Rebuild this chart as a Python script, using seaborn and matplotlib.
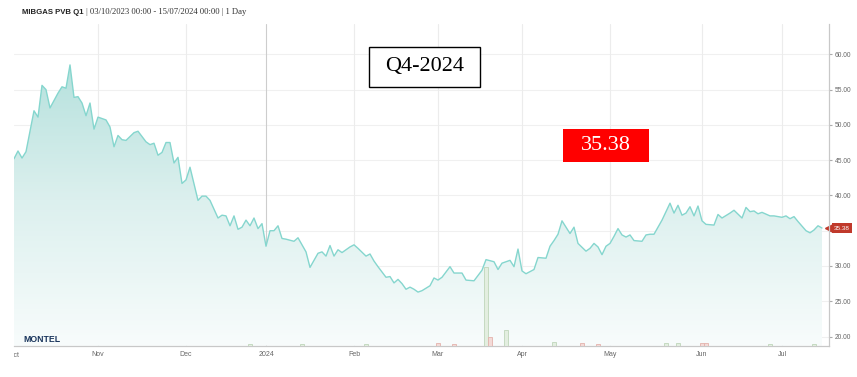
import matplotlib
matplotlib.use('Agg')
import matplotlib.pyplot as plt
import numpy as np
import pandas as pd
import seaborn as sns
from matplotlib.patches import Rectangle, PathPatch
from matplotlib.colors import LinearSegmentedColormap
from matplotlib.transforms import Bbox, TransformedBbox, blended_transform_factory

sns.set_style('white')
plt.rcParams['font.family'] = ['Liberation Sans', 'DejaVu Sans']

# daily settlement (EUR/MWh), trading days only
dates = ['2023-10-03', '2023-10-04', '2023-10-05', '2023-10-06', '2023-10-10', '2023-10-11',
         '2023-10-12', '2023-10-13', '2023-10-16', '2023-10-18', '2023-10-19', '2023-10-20',
         '2023-10-23', '2023-10-24', '2023-10-25', '2023-10-26', '2023-10-27', '2023-10-30',
         '2023-10-31', '2023-11-01', '2023-11-03', '2023-11-06', '2023-11-07', '2023-11-08',
         '2023-11-09', '2023-11-10', '2023-11-14', '2023-11-15', '2023-11-17', '2023-11-20',
         '2023-11-21', '2023-11-22', '2023-11-23', '2023-11-24', '2023-11-27', '2023-11-28',
         '2023-11-29', '2023-11-30', '2023-12-01', '2023-12-04', '2023-12-06', '2023-12-07',
         '2023-12-08', '2023-12-11', '2023-12-13', '2023-12-14', '2023-12-15', '2023-12-18',
         '2023-12-19', '2023-12-20', '2023-12-21', '2023-12-22', '2023-12-26', '2023-12-27',
         '2023-12-28', '2023-12-29', '2024-01-02', '2024-01-03', '2024-01-04', '2024-01-05',
         '2024-01-08', '2024-01-09', '2024-01-11', '2024-01-12', '2024-01-16', '2024-01-17',
         '2024-01-19', '2024-01-22', '2024-01-23', '2024-01-24', '2024-01-25', '2024-01-26',
         '2024-01-29', '2024-01-31', '2024-02-01', '2024-02-02', '2024-02-06', '2024-02-07',
         '2024-02-08', '2024-02-09', '2024-02-13', '2024-02-14', '2024-02-15', '2024-02-16',
         '2024-02-19', '2024-02-20', '2024-02-21', '2024-02-22', '2024-02-23', '2024-02-26',
         '2024-02-28', '2024-02-29', '2024-03-01', '2024-03-04', '2024-03-06', '2024-03-07',
         '2024-03-11', '2024-03-12', '2024-03-14', '2024-03-18', '2024-03-19', '2024-03-21',
         '2024-03-22', '2024-03-25', '2024-03-27', '2024-03-28', '2024-03-29', '2024-04-01',
         '2024-04-02', '2024-04-04', '2024-04-05', '2024-04-09', '2024-04-10', '2024-04-11',
         '2024-04-12', '2024-04-15', '2024-04-17', '2024-04-18', '2024-04-19', '2024-04-23',
         '2024-04-24', '2024-04-25', '2024-04-26', '2024-04-29', '2024-04-30', '2024-05-01',
         '2024-05-02', '2024-05-03', '2024-05-06', '2024-05-07', '2024-05-08', '2024-05-09',
         '2024-05-13', '2024-05-14', '2024-05-15', '2024-05-16', '2024-05-20', '2024-05-22',
         '2024-05-23', '2024-05-24', '2024-05-27', '2024-05-28', '2024-05-29', '2024-05-30',
         '2024-05-31', '2024-06-03', '2024-06-04', '2024-06-06', '2024-06-07', '2024-06-10',
         '2024-06-12', '2024-06-13', '2024-06-17', '2024-06-18', '2024-06-19', '2024-06-20',
         '2024-06-21', '2024-06-24', '2024-06-26', '2024-06-27', '2024-07-01', '2024-07-02',
         '2024-07-03', '2024-07-04', '2024-07-05', '2024-07-09', '2024-07-10', '2024-07-11',
         '2024-07-12', '2024-07-15']
price = [45.2, 46.3, 45.3, 46.2, 52.0, 51.1,
         55.6, 55.0, 52.4, 54.5, 55.4, 55.2,
         58.5, 53.9, 54.0, 53.1, 51.3, 53.1,
         49.4, 51.1, 50.7, 49.7, 46.9, 48.5,
         47.9, 47.8, 48.9, 49.1, 47.6, 47.2,
         47.4, 45.7, 46.1, 47.5, 47.5, 44.6,
         45.4, 41.7, 42.2, 44.0, 39.3, 39.9,
         39.9, 39.3, 36.8, 37.2, 37.1, 35.7,
         37.1, 35.2, 35.5, 36.5, 35.7, 36.8,
         35.3, 36.0, 32.8, 35.0, 35.0, 35.7,
         33.9, 33.8, 33.5, 34.0, 32.0, 29.8,
         31.8, 32.0, 31.4, 32.9, 31.4, 32.3,
         31.9, 32.7, 33.0, 32.5, 31.4, 31.7,
         30.7, 29.9, 28.4, 28.5, 27.6, 28.1,
         27.5, 26.7, 27.0, 26.7, 26.3, 26.5,
         27.2, 28.3, 28.0, 28.4, 29.9, 29.0,
         29.0, 28.0, 27.9, 29.4, 30.9, 30.6,
         29.5, 30.4, 30.8, 29.9, 32.4, 29.3,
         28.9, 29.5, 31.2, 31.1, 32.8, 33.6,
         34.5, 36.4, 34.6, 35.5, 33.2, 32.1,
         32.5, 33.2, 32.7, 31.6, 32.8, 33.2,
         34.2, 35.3, 34.4, 34.1, 34.4, 33.6,
         33.5, 34.4, 34.5, 34.5, 36.5, 38.9,
         37.5, 38.6, 37.2, 37.5, 38.4, 37.1,
         38.5, 36.4, 35.9, 35.8, 37.3, 36.8,
         37.5, 37.9, 36.8, 38.3, 37.7, 37.8,
         37.4, 37.6, 37.1, 37.1, 36.9, 37.1,
         36.7, 37.0, 36.3, 35.0, 34.7, 35.1,
         35.7, 35.38]

# traded volume bars (lots)
bar_dates = ['2023-12-26', '2024-01-15', '2024-02-06', '2024-03-01', '2024-03-07', '2024-03-19',
             '2024-03-20', '2024-03-26', '2024-04-11', '2024-04-22', '2024-04-26', '2024-05-21',
             '2024-05-24', '2024-06-03', '2024-06-04', '2024-06-26', '2024-07-11']
bar_vol = [1.5, 1.5, 1.5, 3, 2, 98, 11, 19, 5, 3, 2, 3, 3, 3, 3, 1.5, 2]
bar_side = ['buy', 'buy', 'buy', 'sell', 'sell', 'buy', 'sell', 'buy', 'buy', 'sell', 'sell', 'buy',
            'buy', 'sell', 'sell', 'buy', 'buy']

holidays = ['2023-12-25', '2024-01-01']
y_ticks = [20, 25, 30, 35, 40, 45, 50, 55, 60]

# ordinal (trading-day) axis like the source chart
days = pd.bdate_range('2023-10-03', '2024-07-15')
days = days[~days.isin(pd.to_datetime(holidays))]
pos = days.get_indexer(pd.to_datetime(dates))
bpos = days.get_indexer(pd.to_datetime(bar_dates))
idx = pd.Series(np.arange(len(days)), index=days)
first = idx.groupby([days.year, days.month]).first().values
tick_lab = [str(d.year) if d.month == 1 else d.strftime('%b') for d in days[first]]

W, H = 857, 377
fig = plt.figure(figsize=(W / 100, H / 100), dpi=100)
ax = fig.add_axes([14 / W, 1 - 345.7 / H, (829 - 14) / W, (345.7 - 24) / H])
xmax = len(days) - 1 + 1.75
ymin, ymax = 18.7, 64.3

# volume bars on their own scale, drawn over the price area
ax2 = ax.twinx()
ax2.set_ylim(0, 400)
for side, fc, ec in [('buy', '#e3eee0', '#bfd6ba'), ('sell', '#f3dad7', '#e4b2ac')]:
    m = np.array(bar_side) == side
    ax2.bar(bpos[m], np.array(bar_vol)[m], width=1.0, color=fc, edgecolor=ec, lw=0.6)
ax2.set_yticks([])
for s in ax2.spines.values():
    s.set_visible(False)
ax2.patch.set_visible(False)

# gradient area under the line
fill = ax.fill_between(pos, price, ymin, color='none', lw=0)
clip = PathPatch(fill.get_paths()[0], transform=ax.transData, fc='none', ec='none')
ax.add_patch(clip)
cmap = LinearSegmentedColormap.from_list('g', ['#f8fcfc', '#dcf0ee', '#b3e0dc'])
grad = np.linspace(0, 1, 256).reshape(-1, 1)
im = ax.imshow(grad, extent=[0, xmax, ymin, 60], origin='lower', aspect='auto',
               cmap=cmap, zorder=1)
im.set_clip_path(clip)

sns.lineplot(x=pos, y=price, ax=ax, color='#85d6ce', lw=1.0, zorder=3)

ax.set_xlim(0, xmax)
ax.set_ylim(ymin, ymax)

# grid
for y in y_ticks:
    ax.axhline(y, color='#f0f0f0', lw=0.8, zorder=0)
for p, lab in zip(first[1:], tick_lab[1:]):
    ax.axvline(p, color='#cdcdcd' if lab.isdigit() else '#ececec', lw=0.8, zorder=0)

# the last-price tag covers the 35.00 label, as in the source
ax.yaxis.tick_right()
ax.set_yticks(y_ticks)
ax.set_yticklabels(['' if v == 35 else '%.2f' % v for v in y_ticks])
ax.tick_params(axis='y', labelsize=4.8, colors='#ababab', labelcolor='#666666', length=2.5, pad=1.5,
               left=False, labelleft=False, right=True, labelright=True)
ax.set_xticks(first[1:])
ax.set_xticklabels(tick_lab[1:])
ax.tick_params(axis='x', labelsize=5, colors='#dddddd', labelcolor='#666666', length=2.5, pad=1.5)
for s in ['top', 'left']:
    ax.spines[s].set_visible(False)
for s in ['right', 'bottom']:
    ax.spines[s].set_color('#c8c8c8')
    ax.spines[s].set_linewidth(0.9)
ax.set_xlabel('')
ax.set_ylabel('')

trans_x = blended_transform_factory(ax.transData, ax.transAxes)
oct_lab = ax.text(first[0], -0.021, tick_lab[0], transform=trans_x, ha='center', va='top',
                  fontsize=5, color='#666666')
oct_lab.set_clip_on(True)
oct_lab.set_clip_box(TransformedBbox(Bbox([[14 / W, 0], [1, 1]]), fig.transFigure))

ax.set_zorder(1)
ax2.set_zorder(2)

# last price tag
trans_y = blended_transform_factory(ax.transAxes, ax.transData)
ax.plot([1.0], [price[-1]], marker='<', ms=5.5, color='#c0392b', transform=trans_y, clip_on=False)
ax.text(1.006, price[-1], '%.2f' % price[-1], transform=trans_y, fontsize=4.6, color='white',
        va='center', ha='left', bbox=dict(boxstyle='square,pad=0.35', fc='#c0392b', ec='none'))

# header
t1 = fig.text(22 / W, 1 - 14 / H, 'MIBGAS PVB Q1', fontsize=5.6, fontweight='bold',
              color='#222222', va='baseline')
ax.annotate(' | 03/10/2023 00:00 - 15/07/2024 00:00 | 1 Day', xy=(1, 0), xycoords=t1,
            va='bottom', ha='left', fontsize=6.2, color='#333333',
            family='Liberation Serif', annotation_clip=False)

# overlays
fig.add_artist(Rectangle((369 / W, 1 - 87 / H), 111 / W, 40 / H, transform=fig.transFigure,
                         fc='white', ec='black', lw=1, zorder=5))
fig.text(424.5 / W, 1 - 67 / H, 'Q4-2024', family='Liberation Serif', fontsize=16,
         ha='center', va='center', color='black', zorder=6)
fig.add_artist(Rectangle((563 / W, 1 - 162 / H), 86 / W, 33 / H, transform=fig.transFigure,
                         fc='#ff0000', ec='none', zorder=5))
fig.text(606 / W, 1 - 146 / H, '%.2f' % price[-1], family='Liberation Serif', fontsize=16,
         ha='center', va='center', color='white', zorder=6)
fig.text(23 / W, 1 - 340 / H, 'MONTEL', fontsize=6.3, fontweight='bold', color='#1b365d',
         va='center', ha='left', zorder=6)

fig.savefig('out.png', dpi=100)
